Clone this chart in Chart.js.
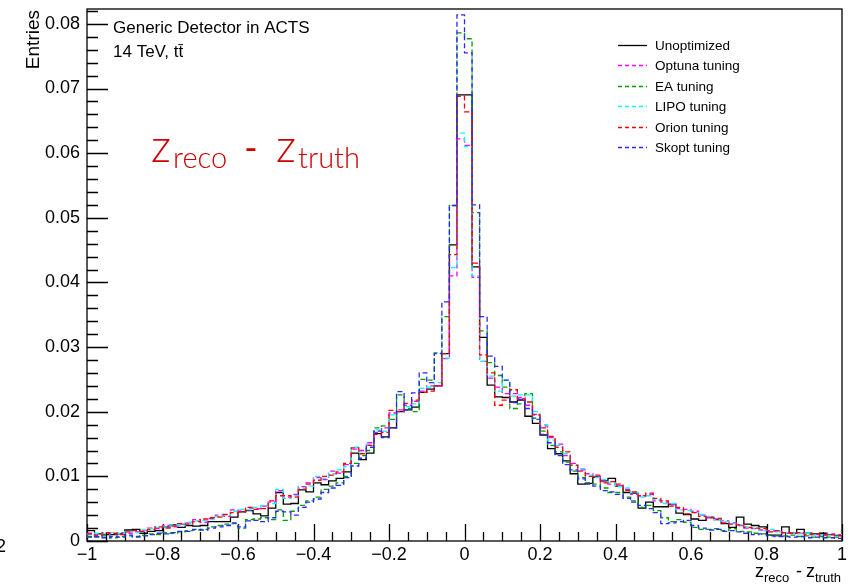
<!DOCTYPE html>
<html>
<head>
<meta charset="utf-8">
<title>z_reco - z_truth</title>
<script src="https://cdn.jsdelivr.net/npm/chart.js@4.4.1/dist/chart.umd.min.js"></script>
<style>
  html, body { margin: 0; padding: 0; background: #ffffff; }
  #wrap { width: 851px; height: 584px; position: relative; }
</style>
</head>
<body>
<div id="wrap"><canvas id="histChart" width="851" height="584"></canvas></div>
<script>
// Histogram binning: 100 bins from -1 to 1
const xMin = -1;
const xMax = 1;
const nBins = 100;

// Tick labels
const xTickValues = [-1, -0.8, -0.6, -0.4, -0.2, 0, 0.2, 0.4, 0.6, 0.8, 1];
const yTickValues = [0, 0.01, 0.02, 0.03, 0.04, 0.05, 0.06, 0.07, 0.08];

// Series names
const seriesNames = ['Unoptimized', 'Optuna tuning', 'EA tuning', 'LIPO tuning', 'Orion tuning', 'Skopt tuning'];

// Bin contents
const unoptimized = [
  0.0016, 0.0011, 0.0010, 0.0010, 0.0011, 0.0017, 0.0018, 0.0012, 0.0015, 0.0016,
  0.0022, 0.0025, 0.0021, 0.0024, 0.0023, 0.0024, 0.0030, 0.0030, 0.0030, 0.0037,
  0.0045, 0.0047, 0.0042, 0.0039, 0.0051, 0.0075, 0.0057, 0.0058, 0.0079, 0.0076,
  0.0090, 0.0087, 0.0093, 0.0097, 0.0107, 0.0136, 0.0126, 0.0136, 0.0166, 0.0161,
  0.0175, 0.0200, 0.0203, 0.0207, 0.0230, 0.0235, 0.0240, 0.0290, 0.0458, 0.0690,
  0.0690, 0.0424, 0.0315, 0.0241, 0.0223, 0.0222, 0.0215, 0.0218, 0.0193, 0.0182,
  0.0164, 0.0143, 0.0135, 0.0124, 0.0104, 0.0088, 0.0089, 0.0099, 0.0093, 0.0097,
  0.0085, 0.0075, 0.0074, 0.0051, 0.0060, 0.0053, 0.0053, 0.0057, 0.0043, 0.0041,
  0.0034, 0.0032, 0.0037, 0.0033, 0.0027, 0.0021, 0.0037, 0.0026, 0.0024, 0.0022,
  0.0009, 0.0009, 0.0022, 0.0012, 0.0018, 0.0012, 0.0011, 0.0012, 0.0010, 0.0009
];
const optuna = [
  0.0012, 0.0009, 0.0012, 0.0011, 0.0013, 0.0012, 0.0014, 0.0016, 0.0020, 0.0019,
  0.0024, 0.0022, 0.0026, 0.0028, 0.0033, 0.0029, 0.0035, 0.0040, 0.0038, 0.0048,
  0.0046, 0.0051, 0.0050, 0.0054, 0.0060, 0.0078, 0.0068, 0.0072, 0.0084, 0.0090,
  0.0098, 0.0095, 0.0108, 0.0105, 0.0118, 0.0142, 0.0140, 0.0152, 0.0168, 0.0175,
  0.0198, 0.0203, 0.0210, 0.0216, 0.0232, 0.0240, 0.0240, 0.0282, 0.0410, 0.0622,
  0.0612, 0.0408, 0.0278, 0.0252, 0.0238, 0.0228, 0.0228, 0.0222, 0.0210, 0.0196,
  0.0178, 0.0160, 0.0150, 0.0132, 0.0120, 0.0110, 0.0104, 0.0100, 0.0092, 0.0088,
  0.0086, 0.0080, 0.0072, 0.0070, 0.0072, 0.0062, 0.0060, 0.0056, 0.0050, 0.0049,
  0.0046, 0.0040, 0.0036, 0.0034, 0.0031, 0.0028, 0.0024, 0.0020, 0.0019, 0.0017,
  0.0016, 0.0015, 0.0012, 0.0013, 0.0012, 0.0011, 0.0010, 0.0010, 0.0011, 0.0010
];
const eaTuning = [
  0.0007, 0.0006, 0.0008, 0.0005, 0.0007, 0.0008, 0.0006, 0.0009, 0.0011, 0.0010,
  0.0013, 0.0012, 0.0014, 0.0016, 0.0017, 0.0018, 0.0022, 0.0024, 0.0026, 0.0027,
  0.0020, 0.0033, 0.0034, 0.0036, 0.0033, 0.0048, 0.0032, 0.0046, 0.0055, 0.0062,
  0.0068, 0.0080, 0.0085, 0.0090, 0.0100, 0.0120, 0.0132, 0.0140, 0.0175, 0.0178,
  0.0188, 0.0226, 0.0205, 0.0200, 0.0250, 0.0249, 0.0291, 0.0347, 0.0519, 0.0786,
  0.0777, 0.0508, 0.0325, 0.0276, 0.0256, 0.0238, 0.0205, 0.0212, 0.0228, 0.0188,
  0.0170, 0.0148, 0.0138, 0.0122, 0.0108, 0.0098, 0.0090, 0.0088, 0.0082, 0.0075,
  0.0075, 0.0068, 0.0062, 0.0052, 0.0055, 0.0047, 0.0036, 0.0030, 0.0033, 0.0029,
  0.0021, 0.0018, 0.0018, 0.0019, 0.0016, 0.0019, 0.0015, 0.0014, 0.0012, 0.0011,
  0.0009, 0.0008, 0.0008, 0.0009, 0.0007, 0.0008, 0.0006, 0.0007, 0.0006, 0.0006
];
const lipo = [
  0.0010, 0.0012, 0.0011, 0.0013, 0.0012, 0.0015, 0.0013, 0.0017, 0.0019, 0.0021,
  0.0022, 0.0025, 0.0024, 0.0029, 0.0031, 0.0032, 0.0033, 0.0038, 0.0040, 0.0046,
  0.0049, 0.0048, 0.0052, 0.0055, 0.0058, 0.0080, 0.0066, 0.0070, 0.0082, 0.0085,
  0.0100, 0.0097, 0.0104, 0.0110, 0.0115, 0.0145, 0.0138, 0.0150, 0.0172, 0.0170,
  0.0195, 0.0200, 0.0208, 0.0212, 0.0236, 0.0238, 0.0245, 0.0283, 0.0423, 0.0631,
  0.0610, 0.0410, 0.0278, 0.0255, 0.0232, 0.0249, 0.0224, 0.0226, 0.0226, 0.0200,
  0.0180, 0.0156, 0.0148, 0.0135, 0.0118, 0.0112, 0.0102, 0.0098, 0.0095, 0.0090,
  0.0084, 0.0082, 0.0075, 0.0068, 0.0070, 0.0064, 0.0058, 0.0058, 0.0048, 0.0047,
  0.0044, 0.0041, 0.0038, 0.0033, 0.0030, 0.0027, 0.0025, 0.0022, 0.0020, 0.0016,
  0.0018, 0.0014, 0.0013, 0.0012, 0.0011, 0.0012, 0.0009, 0.0010, 0.0009, 0.0010
];
const orion = [
  0.0011, 0.0008, 0.0013, 0.0012, 0.0010, 0.0014, 0.0016, 0.0015, 0.0018, 0.0022,
  0.0020, 0.0023, 0.0027, 0.0026, 0.0030, 0.0034, 0.0036, 0.0037, 0.0041, 0.0044,
  0.0045, 0.0052, 0.0049, 0.0050, 0.0062, 0.0070, 0.0070, 0.0068, 0.0080, 0.0088,
  0.0094, 0.0100, 0.0102, 0.0107, 0.0120, 0.0144, 0.0135, 0.0148, 0.0165, 0.0168,
  0.0202, 0.0200, 0.0213, 0.0218, 0.0230, 0.0232, 0.0240, 0.0290, 0.0443, 0.0688,
  0.0664, 0.0430, 0.0288, 0.0260, 0.0210, 0.0218, 0.0234, 0.0220, 0.0215, 0.0195,
  0.0175, 0.0162, 0.0145, 0.0138, 0.0117, 0.0108, 0.0100, 0.0102, 0.0090, 0.0092,
  0.0088, 0.0078, 0.0076, 0.0070, 0.0074, 0.0066, 0.0062, 0.0054, 0.0052, 0.0042,
  0.0044, 0.0038, 0.0036, 0.0035, 0.0028, 0.0026, 0.0025, 0.0021, 0.0020, 0.0019,
  0.0014, 0.0016, 0.0013, 0.0012, 0.0013, 0.0010, 0.0011, 0.0009, 0.0010, 0.0008
];
const skopt = [
  0.0006, 0.0007, 0.0005, 0.0007, 0.0006, 0.0009, 0.0007, 0.0008, 0.0010, 0.0012,
  0.0011, 0.0013, 0.0015, 0.0015, 0.0018, 0.0017, 0.0020, 0.0022, 0.0024, 0.0028,
  0.0022, 0.0031, 0.0032, 0.0030, 0.0036, 0.0046, 0.0045, 0.0040, 0.0052, 0.0060,
  0.0065, 0.0075, 0.0082, 0.0086, 0.0098, 0.0116, 0.0128, 0.0145, 0.0170, 0.0160,
  0.0175, 0.0231, 0.0203, 0.0229, 0.0260, 0.0245, 0.0290, 0.0370, 0.0519, 0.0814,
  0.0755, 0.0520, 0.0347, 0.0286, 0.0270, 0.0249, 0.0214, 0.0219, 0.0205, 0.0190,
  0.0165, 0.0152, 0.0132, 0.0118, 0.0110, 0.0096, 0.0088, 0.0085, 0.0078, 0.0076,
  0.0072, 0.0066, 0.0060, 0.0055, 0.0050, 0.0044, 0.0027, 0.0028, 0.0030, 0.0032,
  0.0024, 0.0020, 0.0017, 0.0018, 0.0015, 0.0016, 0.0014, 0.0012, 0.0010, 0.0011,
  0.0008, 0.0007, 0.0007, 0.0006, 0.0007, 0.0005, 0.0006, 0.0005, 0.0005, 0.0004
];

const seriesValues = [unoptimized, optuna, eaTuning, lipo, orion, skopt];
const seriesColors = ['#000000', '#ff00ff', '#00a000', '#00ffff', '#ff0000', '#2a2aff'];
const seriesDash = [[], [5, 3], [5, 3], [5, 3], [5, 3], [5, 3]];

// Plot frame in pixels
const frame = { left: 87, right: 842, top: 9, bottom: 541 };
const yMaxAxis = 0.0823;

const sansFamily = '"Liberation Sans", Arial, sans-serif';
const labelFamily = 'Lato, "Noto Sans", sans-serif';

// Turn bin contents into step points: one point at each left edge + closing point
function toStepPoints(values) {
  const width = (xMax - xMin) / nBins;
  const pts = values.map((v, i) => ({ x: xMin + i * width, y: v }));
  pts.push({ x: xMax, y: values[values.length - 1] });
  return pts;
}

function formatTick(v, digits) {
  let s = Math.abs(v) < 1e-9 ? '0' : String(parseFloat(v.toFixed(digits)));
  return s.replace('-', '\u2212');
}

// Writes one piece of text
function putText(ctx, text, x, y, size, family, align, weight) {
  ctx.font = (weight ? weight + ' ' : '') + size + 'px ' + family;
  ctx.textAlign = align || 'left';
  ctx.fillText(text, x, y);
}

// Frame, inside ticks, texts and legend
const rootStylePlugin = {
  id: 'rootStyle',
  beforeDatasetsDraw(chart) {
    const ctx = chart.ctx;
    const xs = chart.scales.x;
    const ys = chart.scales.y;
    const a = chart.chartArea;
    ctx.save();
    ctx.strokeStyle = '#000';
    ctx.lineWidth = 1.3;
    ctx.strokeRect(a.left, a.top, a.right - a.left, a.bottom - a.top);

    // y ticks (major every 0.01, minor every 0.002)
    ctx.beginPath();
    for (let k = 0; k <= 41; k++) {
      const v = k * 0.002;
      if (v > yMaxAxis) break;
      const py = Math.round(ys.getPixelForValue(v)) + 0.5;
      const len = (k % 5 === 0) ? 21 : 11;
      ctx.moveTo(a.left, py);
      ctx.lineTo(a.left + len, py);
    }
    // x ticks (major every 0.2, minor every 0.05)
    for (let k = 0; k <= 40; k++) {
      const v = xMin + k * 0.05;
      const px = Math.round(xs.getPixelForValue(v)) + 0.5;
      const len = (k % 4 === 0) ? 17 : 9;
      ctx.moveTo(px, a.bottom);
      ctx.lineTo(px, a.bottom - len);
    }
    ctx.stroke();
    ctx.restore();
  },
  afterDraw(chart) {
    const ctx = chart.ctx;
    ctx.save();
    ctx.fillStyle = '#000';
    ctx.textBaseline = 'alphabetic';

    // y title, rotated, ending at the top
    ctx.save();
    ctx.translate(39, 10);
    ctx.rotate(-Math.PI / 2);
    putText(ctx, 'Entries', 0, 0, 19, sansFamily, 'right');
    ctx.restore();

    // x title at the bottom right
    putText(ctx, 'z', 755, 577, 18, sansFamily);
    putText(ctx, 'reco', 764, 582, 13, sansFamily);
    putText(ctx, '-', 796, 577, 18, sansFamily);
    putText(ctx, 'z', 806, 577, 18, sansFamily);
    putText(ctx, 'truth', 815, 582, 13, sansFamily);

    // fragment at the far left
    putText(ctx, '2', 6, 552, 18, sansFamily, 'right');

    // Info texts
    putText(ctx, 'Generic Detector in ACTS', 113, 33, 17, sansFamily);
    putText(ctx, '14 TeV, t\u0074\u0304', 113, 57, 17, sansFamily);

    // Big red label
    ctx.fillStyle = '#cc0000';
    putText(ctx, 'z', 151, 162, 45, labelFamily, 'left', 300);
    putText(ctx, 'reco', 173, 168, 29, labelFamily, 'left', 300);
    putText(ctx, '-', 251, 161, 36, labelFamily, 'center', 400);
    putText(ctx, 'z', 276, 162, 45, labelFamily, 'left', 300);
    putText(ctx, 'truth', 298, 168, 29, labelFamily, 'left', 300);

    // Legend
    const rows = [45, 65, 86, 106, 127, 147];
    seriesNames.forEach((name, i) => {
      ctx.save();
      ctx.strokeStyle = seriesColors[i];
      ctx.lineWidth = 1.3;
      ctx.setLineDash(seriesDash[i].length ? [4, 3] : []);
      ctx.beginPath();
      ctx.moveTo(618, rows[i] + 0.5);
      ctx.lineTo(647, rows[i] + 0.5);
      ctx.stroke();
      ctx.restore();
      ctx.fillStyle = '#000';
      putText(ctx, name, 655, rows[i] + 5, 13.5, sansFamily);
    });
    ctx.restore();
  }
};

function buildChart() {
  const ctx = document.getElementById('histChart').getContext('2d');
  const datasets = seriesValues.map((vals, i) => ({
    label: seriesNames[i],
    data: toStepPoints(vals),
    borderColor: seriesColors[i],
    borderWidth: 1.3,
    borderDash: seriesDash[i],
    pointRadius: 0,
    fill: false,
    stepped: true,
    order: seriesValues.length - i
  }));

  new Chart(ctx, {
    type: 'line',
    data: { datasets: datasets },
    plugins: [rootStylePlugin],
    options: {
      responsive: false,
      animation: false,
      events: [],
      layout: { padding: { left: 0, right: 851 - frame.right, top: frame.top, bottom: 0 } },
      plugins: { legend: { display: false }, tooltip: { enabled: false } },
      scales: {
        x: {
          type: 'linear',
          min: xMin,
          max: xMax,
          grid: { display: false, drawTicks: false },
          border: { display: false },
          afterBuildTicks: scale => { scale.ticks = xTickValues.map(v => ({ value: v })); },
          afterFit: scale => {
            scale.height = 584 - frame.bottom;
            scale.paddingLeft = 0;
            scale.paddingRight = 0;
          },
          ticks: {
            autoSkip: false,
            maxRotation: 0,
            padding: 3,
            color: '#000',
            font: { family: sansFamily, size: 18 },
            callback: v => formatTick(v, 1)
          }
        },
        y: {
          type: 'linear',
          min: 0,
          max: yMaxAxis,
          grid: { display: false, drawTicks: false },
          border: { display: false },
          afterBuildTicks: scale => { scale.ticks = yTickValues.map(v => ({ value: v })); },
          afterFit: scale => {
            scale.width = frame.left;
            scale.paddingTop = 0;
            scale.paddingBottom = 0;
          },
          ticks: {
            padding: 7,
            color: '#000',
            font: { family: sansFamily, size: 18 },
            callback: v => formatTick(v, 2)
          }
        }
      }
    }
  });
}

buildChart();
</script>
</body>
</html>
